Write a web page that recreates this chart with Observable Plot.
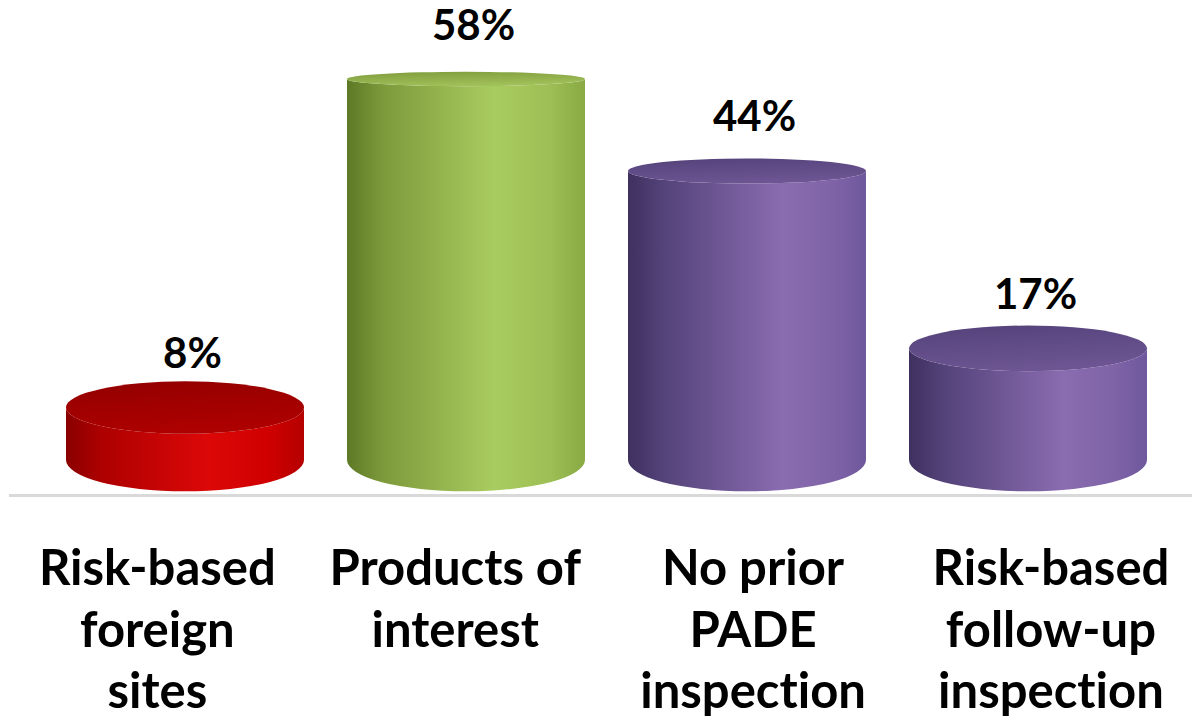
<!DOCTYPE html>
<html>
<head>
<meta charset="utf-8">
<script src="https://cdn.jsdelivr.net/npm/d3@7"></script>
<script src="https://cdn.jsdelivr.net/npm/@observablehq/plot@0.6"></script>
<style>
  html, body { margin: 0; padding: 0; background: #ffffff; }
  #chart svg { display: block; }
  #chart text { font-variant-ligatures: none; font-feature-settings: "liga" 0; }
</style>
</head>
<body>
<div id="chart"></div>
<script>
// ---- data ----
const categories = [
  "Risk-based\nforeign\nsites",
  "Products of\ninterest",
  "No prior\nPADE\ninspection",
  "Risk-based\nfollow-up\ninspection"
];
const values = [8, 58, 44, 17];
const valueLabels = ["8%", "58%", "44%", "17%"];
const tones = ["red", "green", "purple", "purple"];

// ---- styles ----
const palette = {
  red: {
    body: [[0, "#8a0000"], [0.15, "#ad0000"], [0.6, "#dc0808"], [0.85, "#d00000"], [1, "#b50000"]],
    top: [[0, "#930000"], [1, "#ad0000"]]
  },
  green: {
    body: [[0, "#5d7926"], [0.15, "#7d9a3b"], [0.62, "#a9cc60"], [0.85, "#9dbf55"], [1, "#89aa44"]],
    top: [[0, "#7f9c3c"], [1, "#a0c059"]]
  },
  purple: {
    body: [[0, "#3e305f"], [0.15, "#54437a"], [0.65, "#8a6cb0"], [0.85, "#8064a8"], [1, "#6f589d"]],
    top: [[0, "#54427a"], [1, "#6c5592"]]
  }
};

const data = categories.map((c, i) => ({cat: c, value: values[i], label: valueLabels[i], tone: tones[i]}));

// perspective helpers (style)
const ryAt = (yc) => 0.058 * (yc + 45) + (yc > 450 ? 2 : 0);
let gid = 0;

function cylinderRender(index, scales, vals, dims, context) {
  const g = d3.create("svg:g");
  const defs = g.append("defs");
  const bw = scales.x.bandwidth();
  for (const i of index) {
    const d = data[i];
    const x1 = vals.x[i];
    const x2 = x1 + bw;
    const rx = bw / 2;
    const yBase = Math.max(vals.y1[i], vals.y2[i]);
    const yTop = Math.min(vals.y1[i], vals.y2[i]);
    const ryB = ryAt(yBase), ryT = ryAt(yTop);
    const pal = palette[d.tone];
    const bodyId = "cylbody" + (gid) , topId = "cyltop" + (gid++);
    const lgB = defs.append("linearGradient").attr("id", bodyId)
      .attr("x1", 0).attr("x2", 1).attr("y1", 0).attr("y2", 0);
    pal.body.forEach(([o, c]) => lgB.append("stop").attr("offset", o).attr("stop-color", c));
    const lgT = defs.append("linearGradient").attr("id", topId)
      .attr("x1", 0).attr("x2", 0.3).attr("y1", 0).attr("y2", 1);
    pal.top.forEach(([o, c]) => lgT.append("stop").attr("offset", o).attr("stop-color", c));
    g.append("path")
      .attr("d", `M${x1},${yTop} L${x1},${yBase} A${rx},${ryB} 0 0 0 ${x2},${yBase} L${x2},${yTop} A${rx},${ryT} 0 0 1 ${x1},${yTop} Z`)
      .attr("fill", `url(#${bodyId})`);
    g.append("ellipse")
      .attr("cx", x1 + rx).attr("cy", yTop).attr("rx", rx).attr("ry", ryT)
      .attr("fill", `url(#${topId})`);
  }
  return g.node();
}

// category labels spread out in perspective around a vanishing x
function spreadLabels(index, scales, vals, dims, context, next) {
  const vp = 635, k = 1.06;
  const X = Array.from(vals.x, (x) => vp + (x - vp) * k);
  return next(index, scales, {...vals, x: X}, dims, context);
}

const chart = Plot.plot({
  width: 1192,
  height: 721,
  marginTop: 0,
  marginLeft: 10,
  marginRight: 0,
  marginBottom: 226,
  style: {fontFamily: "Lato, 'Open Sans', sans-serif", background: "#ffffff"},
  x: {type: "band", domain: categories, range: [44.5, 1168.5], paddingInner: 0.153, paddingOuter: 0.0765, axis: null},
  y: {domain: [0, 58], range: [460, 79], axis: null},
  marks: [
    Plot.frame({anchor: "bottom", stroke: "#d9d9d9", strokeWidth: 3}),
    Plot.barY(data, {x: "cat", y: "value", render: cylinderRender}),
    Plot.text(data, {x: "cat", y: "value", text: "label", dy: -40, dx: 7, lineAnchor: "bottom",
      fontSize: 42, fontWeight: "bold", fill: "#000000"}),
    Plot.text(data, {x: "cat", text: "cat", frameAnchor: "bottom", lineAnchor: "top", dy: 46, dx: 6,
      lineHeight: 1.255, fontSize: 49, fontWeight: "bold", fill: "#000000", render: spreadLabels})
  ]
});
document.getElementById("chart").append(chart);
</script>
</body>
</html>
